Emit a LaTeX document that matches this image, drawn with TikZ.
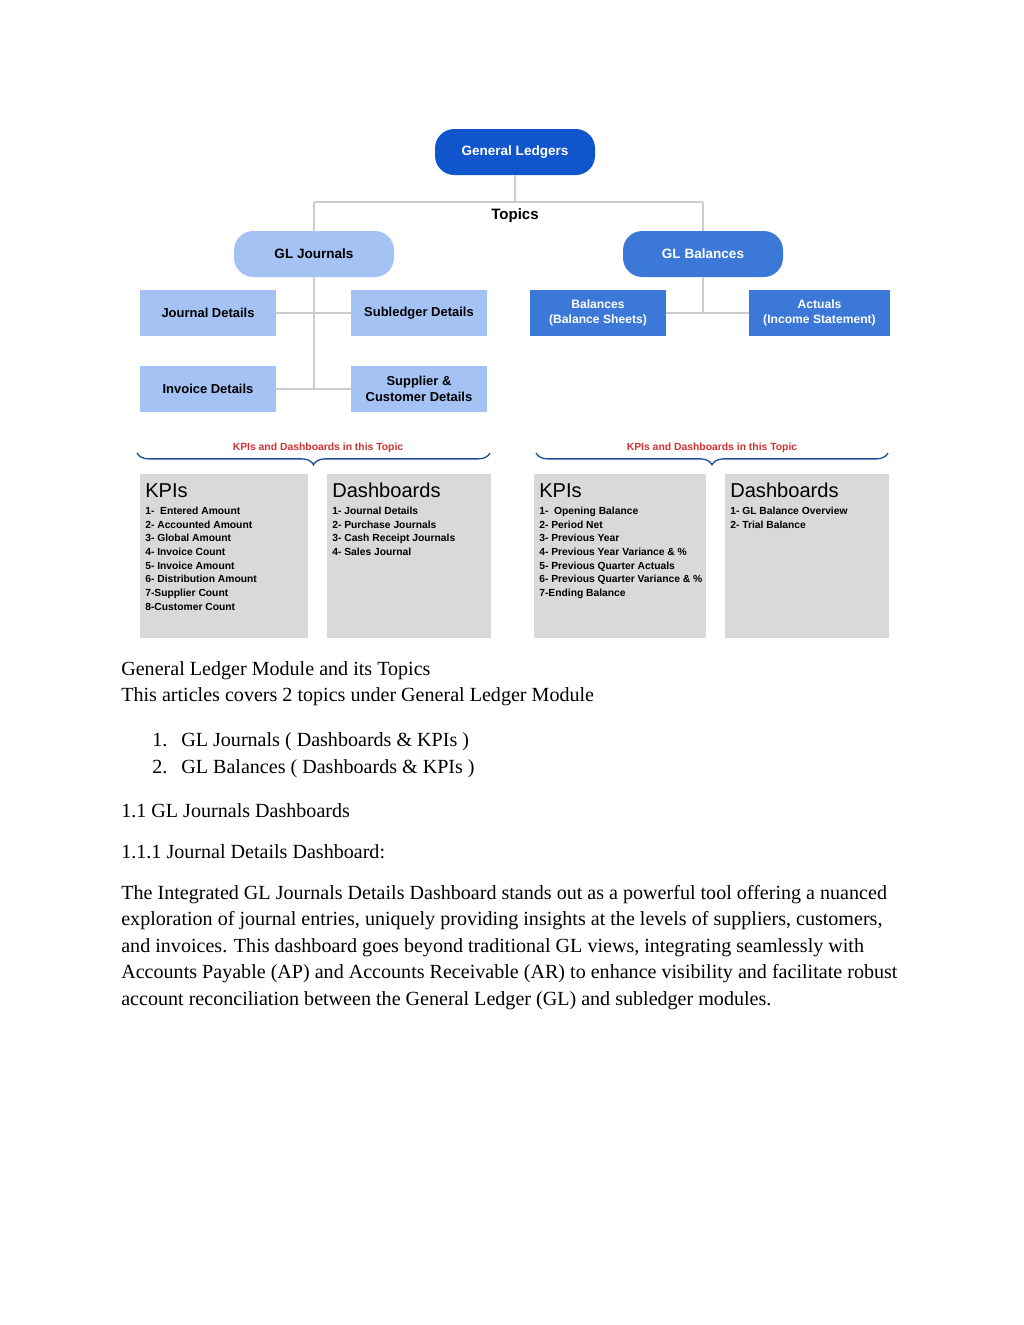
\documentclass[tikz,border=0pt]{standalone}
\usepackage{fontspec}
\setmainfont{Liberation Serif}
\newfontfamily\dsans{Liberation Sans}
\usetikzlibrary{decorations.pathreplacing}
\definecolor{gldark}{HTML}{1155CC}
\definecolor{glmid}{HTML}{3C78D8}
\definecolor{gllight}{HTML}{A4C2F4}
\definecolor{glline}{HTML}{CCCCCC}
\definecolor{glgray}{HTML}{D9D9D9}
\definecolor{glred}{HTML}{D32F2F}
\definecolor{glbrace}{HTML}{1F4E9A}
\tikzset{
  pill/.style={rounded corners=11.5pt, minimum width=160*0.5977pt, minimum height=46*0.5977pt, inner sep=0pt, font=\dsans\bfseries\fontsize{8.1}{9.5}\selectfont, align=center},
  topicbox/.style={minimum width=136*0.5977pt, minimum height=46*0.5977pt, inner sep=0pt, font=\dsans\bfseries\fontsize{7.75}{9.2}\selectfont, align=center},
  link/.style={draw=glline, line width=1.2pt},
  graybox/.style={fill=glgray, draw=none},
  boxtitle/.style={anchor=base west, inner sep=0pt, font=\dsans\fontsize{12}{14}\selectfont},
  items/.style={anchor=north west, inner sep=0pt, align=left, font=\dsans\bfseries\fontsize{6.15}{8.2}\selectfont},
  kpilabel/.style={text=glred, inner sep=0pt, font=\dsans\bfseries\fontsize{6.2}{7}\selectfont},
  bracestyle/.style={draw=glbrace, line width=0.8pt, decorate, decoration={brace, mirror, amplitude=7pt}},
  body/.style={anchor=base west, inner sep=0pt, font=\fontsize{12}{14}\selectfont}
}
\begin{document}
\begin{tikzpicture}[x=0.5977pt, y=-0.5977pt]
\useasboundingbox (0,0) rectangle (1024,1325);
% top nodes
\node[pill, fill=gldark, text=white] (gl) at (515,152) {General Ledgers};
\node[pill, fill=gllight, text=black] (glj) at (314,254) {GL Journals};
\node[pill, fill=glmid, text=white] (glb) at (703,254) {GL Balances};
\node[inner sep=0pt, font=\dsans\bfseries\fontsize{9}{10}\selectfont] (topics) at (515,216) {Topics};
% journal children
\node[topicbox, fill=gllight] (jd) at (208,313) {Journal Details};
\node[topicbox, fill=gllight] (sd) at (419,313) {Subledger Details};
\node[topicbox, fill=gllight] (id) at (208,389) {Invoice Details};
\node[topicbox, fill=gllight] (scd) at (419,389) {Supplier \&\\Customer Details};
% balance children
\node[topicbox, fill=glmid, text=white, font=\dsans\bfseries\fontsize{7.25}{8.8}\selectfont] (bal) at (598,313) {Balances\\(Balance Sheets)};
\node[topicbox, fill=glmid, text=white, minimum width=141*0.5977pt, font=\dsans\bfseries\fontsize{7.25}{8.8}\selectfont] (act) at (819.5,313) {Actuals\\(Income Statement)};
% connectors
\coordinate (split) at (515,202);
\coordinate (jsplit) at (314,202);
\coordinate (bsplit) at (703,202);
\coordinate (jm2) at (314,389);
\coordinate (bm1) at (703,313);
\draw[link] (gl.south) -- (split);
\draw[link] (jsplit) -- (bsplit);
\draw[link] (jsplit) -- (glj.north);
\draw[link] (bsplit) -- (glb.north);
\draw[link] (glj.south) -- (jm2);
\draw[link] (jd.east) -- (sd.west);
\draw[link] (id.east) -- (scd.west);
\draw[link] (glb.south) -- (bm1);
\draw[link] (bal.east) -- (act.west);
% braces
\coordinate (lb1) at (137,453);
\coordinate (lb2) at (490,453);
\coordinate (rb1) at (536,453);
\coordinate (rb2) at (888,453);
\draw[bracestyle] (lb1) -- (lb2);
\draw[bracestyle] (rb1) -- (rb2);
\node[kpilabel] (lk) at (318,448) {KPIs and Dashboards in this Topic};
\node[kpilabel] (rk) at (712,448) {KPIs and Dashboards in this Topic};
% gray boxes
\fill[graybox] (140,474) rectangle (308,638);
\fill[graybox] (327,474) rectangle (491,638);
\fill[graybox] (534,474) rectangle (706,638);
\fill[graybox] (725,474) rectangle (889,638);
\node[boxtitle] (t1) at (145,497) {KPIs};
\node[boxtitle] (t2) at (332,497) {Dashboards};
\node[boxtitle] (t3) at (539,497) {KPIs};
\node[boxtitle] (t4) at (730,497) {Dashboards};
\node[items] (i1) at (145,506.5) {1-\ \ Entered Amount\\2- Accounted Amount\\3- Global Amount\\4- Invoice Count\\5- Invoice Amount\\6- Distribution Amount\\7-Supplier Count\\8-Customer Count};
\node[items] (i2) at (332,506.5) {1- Journal Details\\2- Purchase Journals\\3- Cash Receipt Journals\\4- Sales Journal};
\node[items] (i3) at (539,506.5) {1-\ \ Opening Balance\\2- Period Net\\3- Previous Year\\4- Previous Year Variance \& \%\\5- Previous Quarter Actuals\\6- Previous Quarter Variance \& \%\\7-Ending Balance};
\node[items] (i4) at (730,506.5) {1- GL Balance Overview\\2- Trial Balance};
% body text
\node[body] (b1) at (121,675) {General Ledger Module and its Topics};
\node[body] (b2) at (121,701) {This articles covers 2 topics under General Ledger Module};
\node[body] (n1) at (152,746) {1.};
\node[body] (l1) at (181,746) {GL Journals ( Dashboards \& KPIs )};
\node[body] (n2) at (152,773) {2.};
\node[body] (l2) at (181,773) {GL Balances ( Dashboards \& KPIs )};
\node[body] (h1) at (121,817) {1.1 GL Journals Dashboards};
\node[body] (h2) at (121,858) {1.1.1 Journal Details Dashboard:};
\node[body] (p1) at (121,899) {The Integrated GL Journals Details Dashboard stands out as a powerful tool offering a nuanced};
\node[body] (p2) at (121,925) {exploration of journal entries, uniquely providing insights at the levels of suppliers, customers,};
\node[body] (p3) at (121,952) {and invoices. This dashboard goes beyond traditional GL views, integrating seamlessly with};
\node[body] (p4) at (121,978) {Accounts Payable (AP) and Accounts Receivable (AR) to enhance visibility and facilitate robust};
\node[body] (p5) at (121,1005) {account reconciliation between the General Ledger (GL) and subledger modules.};
\end{tikzpicture}
\end{document}
